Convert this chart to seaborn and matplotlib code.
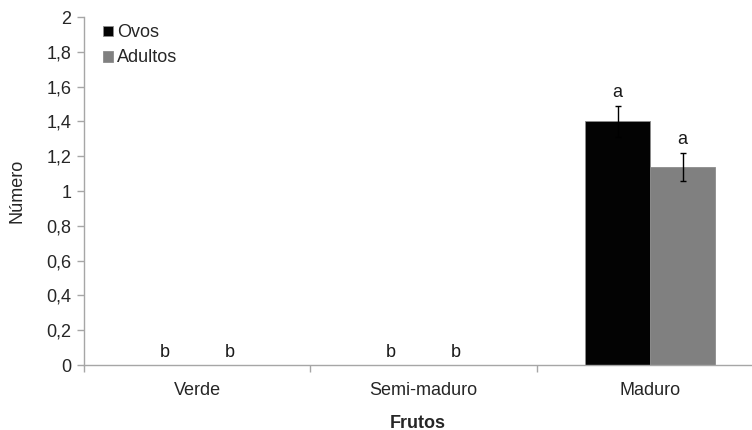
import numpy as np
import pandas as pd
import matplotlib
matplotlib.use("Agg")
import matplotlib.pyplot as plt
import seaborn as sns
from matplotlib.ticker import FixedLocator, FuncFormatter

# dados
frutos = ["Verde", "Semi-maduro", "Maduro"]
ovos = [0.0, 0.0, 1.40]
adultos = [0.0, 0.0, 1.14]
erro_ovos = [0.0, 0.0, 0.09]
erro_adultos = [0.0, 0.0, 0.08]
letras_ovos = ["b", "b", "a"]
letras_adultos = ["b", "b", "a"]

df = pd.DataFrame({
    "Frutos": frutos * 2,
    "Numero": ovos + adultos,
    "Grupo": ["Ovos"] * 3 + ["Adultos"] * 3,
})

sns.set_style("white")
plt.rcParams["font.family"] = ["Liberation Sans", "DejaVu Sans"]

fig = plt.figure(figsize=(7.52, 4.30), dpi=100)
ax = fig.add_axes([84 / 752, 65 / 430, 1 - 84 / 752, 348 / 430])

sns.barplot(data=df, x="Frutos", y="Numero", hue="Grupo", order=frutos,
            hue_order=["Ovos", "Adultos"], palette=["#030303", "#808080"],
            width=0.575, errorbar=None, edgecolor="#8c8c8c", linewidth=0.6,
            ax=ax)

cinza = "#a6a6a6"
fs = 13
# barras e erros
barras = ax.patches
grupos = [(ovos, erro_ovos, letras_ovos), (adultos, erro_adultos, letras_adultos)]
for g, (vals, errs, letras) in enumerate(grupos):
    for i in range(len(frutos)):
        b = barras[g * len(frutos) + i]
        cx = b.get_x() + b.get_width() / 2
        if errs[i] > 0:
            ax.errorbar(cx, vals[i], yerr=errs[i], fmt="none", ecolor="black",
                        elinewidth=1, capsize=2.5, capthick=1)
        ax.text(cx, vals[i] + errs[i] + 0.025, letras[i], ha="center",
                va="bottom", fontsize=fs, color="#1a1a1a")

ax.set_ylim(0, 2)
ax.set_xlim(-0.5, 2.45)
ax.set_yticks(np.arange(0, 2.01, 0.2))
ax.yaxis.set_major_formatter(FuncFormatter(lambda v, p: f"{v:g}".replace(".", ",")))
ax.set_xticks(range(len(frutos)))
ax.set_xticklabels(frutos)
ax.xaxis.set_minor_locator(FixedLocator([-0.5, 0.5, 1.5]))
ax.tick_params(axis="x", which="major", length=0, pad=12, labelsize=fs)
ax.tick_params(axis="x", which="minor", length=5, color=cinza, width=1, bottom=True)
ax.tick_params(axis="y", length=5, color=cinza, width=1, left=True, labelsize=fs, pad=4)

for s in ["top", "right"]:
    ax.spines[s].set_visible(False)
for s in ["left", "bottom"]:
    ax.spines[s].set_color(cinza)
    ax.spines[s].set_linewidth(1)

ax.set_ylabel("Número", fontsize=fs, va="center")
ax.yaxis.set_label_coords(-67 / 668, 0.5)
ax.set_xlabel("Frutos", fontsize=fs, fontweight="bold", va="center")
ax.xaxis.set_label_coords(0.5, -58 / 348)

leg = ax.legend(loc="upper left", bbox_to_anchor=(0.012, 1.01), frameon=False,
                fontsize=fs, handlelength=0.55, handleheight=0.55,
                handletextpad=0.25, labelspacing=0.45, borderaxespad=0.2)

fig.savefig("out.png", dpi=100)
